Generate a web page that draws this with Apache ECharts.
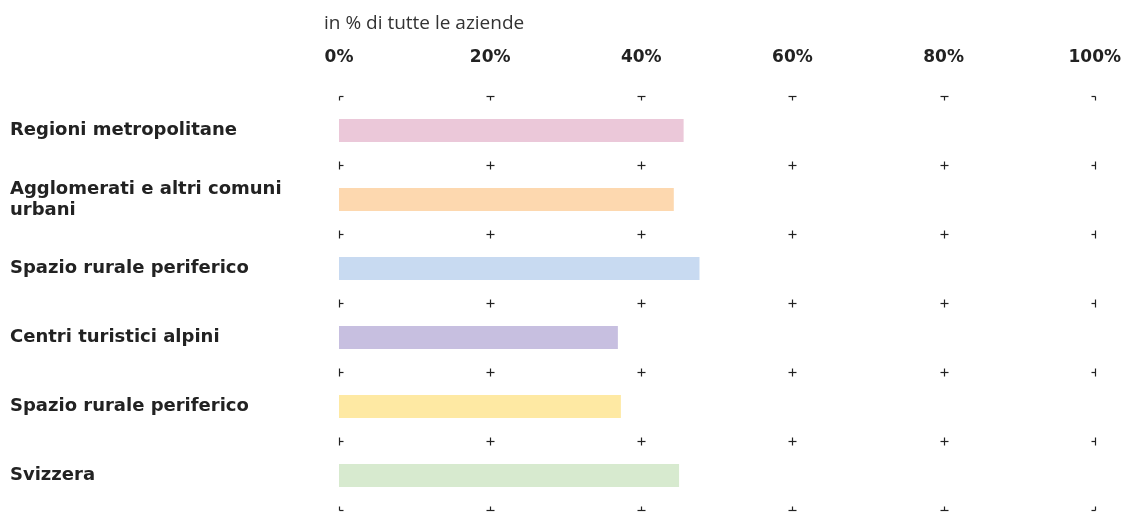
<!DOCTYPE html>
<html>
<head>
<meta charset="utf-8">
<script src="https://cdn.jsdelivr.net/npm/echarts@6/dist/echarts.min.js"></script>
<style>html,body{margin:0;padding:0;background:#fff}#c{width:1124px;height:513px}</style>
</head>
<body>
<div id="c"></div>
<script>
var categories = ['Regioni metropolitane', 'Agglomerati e altri comuni\nurbani', 'Spazio rurale periferico', 'Centri turistici alpini', 'Spazio rurale periferico', 'Svizzera'];
var values = [45.6, 44.3, 47.7, 36.9, 37.3, 45.0];
var barColors = ['#EBC8D9', '#FDD8AF', '#C8DAF1', '#C7BFE0', '#FEE9A3', '#D7EACF'];
var tickValues = [0, 20, 40, 60, 80, 100];
var subtitle = 'in % di tutte le aziende';

var crossData = [];
for (var b = 0; b <= categories.length; b++) {
  for (var t = 0; t < tickValues.length; t++) crossData.push([tickValues[t], b]);
}
var nCat = categories.length;

var chart = echarts.init(document.getElementById('c'));
chart.setOption({
  animation: false,
  title: {
    text: subtitle, left: 319, top: 9,
    textStyle: {fontFamily: 'Open Sans', fontWeight: 400, fontSize: 19, color: '#333'}
  },
  grid: {left: 339, right: 29, top: 96, bottom: 3},
  xAxis: {
    type: 'value', position: 'top', min: 0, max: 100, interval: 20,
    axisLine: {show: false}, axisTick: {show: false}, splitLine: {show: false},
    axisLabel: {
      margin: 30, formatter: '{value}%',
      fontFamily: 'DejaVu Sans', fontWeight: 700, fontSize: 17, color: '#222'
    }
  },
  yAxis: {
    type: 'category', data: categories, inverse: true,
    axisLine: {show: false}, axisTick: {show: false}, splitLine: {show: false},
    axisLabel: {
      align: 'left', margin: 329, lineHeight: 21,
      fontFamily: 'DejaVu Sans', fontWeight: 700, fontSize: 18, color: '#222'
    }
  },
  series: [{
    type: 'bar', barWidth: 23,
    data: values.map(function (v, i) { return {value: v, itemStyle: {color: barColors[i]}}; }),
    silent: true
  }, {
    type: 'custom', silent: true, z: 5,
    data: crossData,
    renderItem: function (params, api) {
      var xv = api.value(0), bi = api.value(1);
      var band = api.size([0, 1])[1];
      var idx = Math.min(bi, nCat - 1);
      var c = api.coord([xv, idx]);
      var x = Math.round(c[0]) + 0.5;
      var y = c[1] + (bi === nCat ? band / 2 : -band / 2);
      y = Math.round(y) + 0.5;
      var a = 4;
      var x1 = xv === 0 ? x : x - a, x2 = xv === 100 ? x : x + a;
      var y1 = bi === 0 ? y : y - a, y2 = bi === nCat ? y : y + a;
      var st = {stroke: '#222', lineWidth: 1.2};
      return {type: 'group', children: [
        {type: 'line', shape: {x1: x1, y1: y, x2: x2, y2: y}, style: st},
        {type: 'line', shape: {x1: x, y1: y1, x2: x, y2: y2}, style: st}
      ]};
    }
  }]
});
</script>
</body>
</html>
